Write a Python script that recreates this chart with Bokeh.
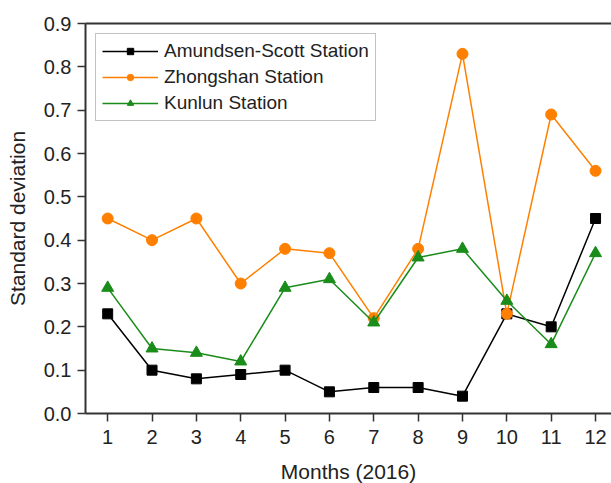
from bokeh.plotting import figure
from bokeh.models import Range1d, LinearAxis, FixedTicker, Legend, LegendItem, PrintfTickFormatter
from bokeh.embed import file_html
from bokeh.resources import INLINE

months = [1, 2, 3, 4, 5, 6, 7, 8, 9, 10, 11, 12]
amundsen = [0.23, 0.10, 0.08, 0.09, 0.10, 0.05, 0.06, 0.06, 0.04, 0.23, 0.20, 0.45]
zhongshan = [0.45, 0.40, 0.45, 0.30, 0.38, 0.37, 0.22, 0.38, 0.83, 0.23, 0.69, 0.56]
kunlun = [0.29, 0.15, 0.14, 0.12, 0.29, 0.31, 0.21, 0.36, 0.38, 0.26, 0.16, 0.37]
y_ticks = [0.0, 0.1, 0.2, 0.3, 0.4, 0.5, 0.6, 0.7, 0.8, 0.9]

FONT = "Liberation Sans"
AX = "#333333"

p = figure(frame_width=526, frame_height=390, output_backend="svg", toolbar_location=None,
           x_range=Range1d(0.5, 12.36), y_range=Range1d(0, 0.9),
           min_border_left=85, min_border_right=0, min_border_top=23, min_border_bottom=68)
p.outline_line_color = None
p.xgrid.visible = False
p.ygrid.visible = False
p.background_fill_color = "white"

c_black = "#000000"
c_orange = "#ff8000"
c_green = "#1a8c1a"

l1 = p.line(months, amundsen, line_color=c_black, line_width=1.5)
s1 = p.scatter(months, amundsen, marker="square", size=10, fill_color=c_black, line_color=c_black)
l2 = p.line(months, zhongshan, line_color=c_orange, line_width=1.5)
s2 = p.scatter(months, zhongshan, marker="circle", size=11, fill_color=c_orange, line_color=c_orange)
l3 = p.line(months, kunlun, line_color=c_green, line_width=1.5)
s3 = p.scatter(months, kunlun, marker="triangle", size=12, fill_color=c_green, line_color=c_green)

for ax in (p.xaxis[0], p.yaxis[0]):
    ax.axis_line_color = AX
    ax.axis_line_width = 2
    ax.major_tick_line_color = AX
    ax.major_tick_line_width = 1.5
    ax.major_tick_out = 8
    ax.major_tick_in = 0
    ax.minor_tick_line_color = None
    ax.major_label_text_font = FONT
    ax.major_label_text_font_size = "20px"
    ax.major_label_text_color = "#222222"
    ax.axis_label_text_font = FONT
    ax.axis_label_text_font_size = "21px"
    ax.axis_label_text_font_style = "normal"
    ax.axis_label_text_color = "#222222"

p.xaxis[0].ticker = FixedTicker(ticks=months)
p.xaxis[0].axis_label = "Months (2016)"
p.xaxis[0].major_label_standoff = 8
p.xaxis[0].axis_label_standoff = 13
p.yaxis[0].ticker = FixedTicker(ticks=y_ticks)
p.yaxis[0].formatter = PrintfTickFormatter(format="%.1f")
p.yaxis[0].axis_label = "Standard deviation"
p.yaxis[0].major_label_standoff = 6
p.yaxis[0].axis_label_standoff = 12

top = LinearAxis(ticker=FixedTicker(ticks=[]), axis_line_color=AX, axis_line_width=2,
                 major_tick_line_color=None, minor_tick_line_color=None,
                 major_label_text_font_size="0px")
p.add_layout(top, "above")

legend = Legend(items=[
    LegendItem(label="Amundsen-Scott Station", renderers=[l1, s1]),
    LegendItem(label="Zhongshan Station", renderers=[l2, s2]),
    LegendItem(label="Kunlun Station", renderers=[l3, s3]),
], location="top_left")
legend.margin = 10
legend.padding = 6
legend.spacing = 4
legend.label_height = 16
legend.glyph_height = 16
legend.glyph_width = 56
legend.label_standoff = 6
legend.label_text_font = FONT
legend.label_text_font_size = "19px"
legend.label_text_color = "#222222"
legend.border_line_color = "#888888"
legend.border_line_width = 1
legend.background_fill_alpha = 1
p.add_layout(legend, "center")

open("out.html", "w").write(file_html(p, INLINE))
